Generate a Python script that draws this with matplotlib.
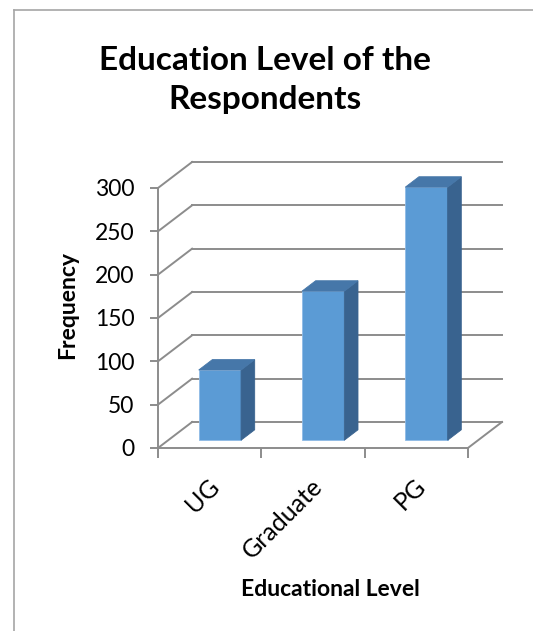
import matplotlib.pyplot as plt
import matplotlib.transforms as mtransforms
from matplotlib.patches import Polygon
from matplotlib.lines import Line2D

levels = ['UG', 'Graduate', 'PG']
frequency = [81, 172, 292]
yticks = [0, 50, 100, 150, 200, 250, 300]

# oblique "3d" offsets: depth shift in category units / value units
DX = 0.33
DY = 30
d0, d1 = 0.3, 0.7   # bar front/back depth fraction
bar_w = 0.41

plt.rcParams['font.family'] = ['Lato', 'DejaVu Sans']

fig = plt.figure(figsize=(5.33, 6.31), dpi=100)
W, H = 533, 631
ax = fig.add_axes([158 / W, 183 / H, 344 / W, 286 / H])
ax.set_xlim(0, 3 + DX)
ax.set_ylim(0, 300 + DY)

grid_c = '#8c8c8c'
for v in yticks:
    ax.plot([0, DX], [v, v + DY], color=grid_c, lw=1.4, clip_on=False, zorder=1)
    ax.plot([DX, 3 + DX], [v + DY, v + DY], color=grid_c, lw=1.4, clip_on=False, zorder=1)
ax.plot([3, 3 + DX], [0, DY], color=grid_c, lw=1.4, clip_on=False, zorder=1)

for i, val in enumerate(frequency):
    x0 = i + 0.5 - bar_w / 2
    x1 = x0 + bar_w
    fx0, fx1 = x0 + d0 * DX, x1 + d0 * DX
    by = d0 * DY
    bx0, bx1 = x0 + d1 * DX, x1 + d1 * DX
    bby = d1 * DY
    front = Polygon([(fx0, by), (fx1, by), (fx1, by + val), (fx0, by + val)],
                    closed=True, fc='#5b9bd5', ec='#8fbbe6', lw=0.6, zorder=3)
    side = Polygon([(fx1, by), (bx1, bby), (bx1, bby + val), (fx1, by + val)],
                   closed=True, fc='#39638f', ec='#39638f', lw=0.6, zorder=3)
    top = Polygon([(fx0, by + val), (fx1, by + val), (bx1, bby + val), (bx0, bby + val)],
                  closed=True, fc='#4677a9', ec='#4677a9', lw=0.6, zorder=3)
    for p in (front, side, top):
        ax.add_patch(p)

for s in ['top', 'right']:
    ax.spines[s].set_visible(False)
ax.spines['left'].set_bounds(0, 300)
ax.spines['bottom'].set_bounds(0, 3)
for s in ['left', 'bottom']:
    ax.spines[s].set_color(grid_c)
    ax.spines[s].set_linewidth(1.4)

ax.set_yticks(yticks)
ax.set_yticklabels([str(t) for t in yticks], fontsize=16.5)
ax.tick_params(axis='y', length=6, width=1.4, color=grid_c, pad=11)

ax.set_xticks([0.5, 1.5, 2.5])
ax.set_xticklabels(levels, rotation=45, ha='right', va='top', rotation_mode='anchor', fontsize=18)
ax.set_xticks([0, 1, 2, 3], minor=True)
ax.tick_params(axis='x', which='major', length=0, pad=19)
ax.tick_params(axis='x', which='minor', length=7, width=1.4, color=grid_c)
shift = mtransforms.ScaledTranslation(-2 / 100, 0, fig.dpi_scale_trans)
for lab in ax.get_xticklabels():
    lab.set_transform(lab.get_transform() + shift)

ax.set_ylabel('Frequency', fontsize=16.5, fontweight='bold', labelpad=12)
ax.xaxis.set_label_coords((309 - 158) / 344, -(589 - 448) / 286)
ax.set_xlabel('Educational Level', fontsize=16.5, fontweight='bold', va='center')

fig.text(265 / W, 1 - 60 / H, 'Education Level of the', ha='center', va='center',
         fontsize=24, fontweight='bold')
fig.text(265 / W, 1 - 99 / H, 'Respondents', ha='center', va='center',
         fontsize=24, fontweight='bold')

# chart border (left and top edges visible)
fig.add_artist(Line2D([14 / W, 14 / W], [0, 1 - 10 / H], color='#a6a6a6', lw=1.2))
fig.add_artist(Line2D([14 / W, 1], [1 - 10 / H, 1 - 10 / H], color='#a6a6a6', lw=1.2))

fig.savefig('out.png', dpi=100)
